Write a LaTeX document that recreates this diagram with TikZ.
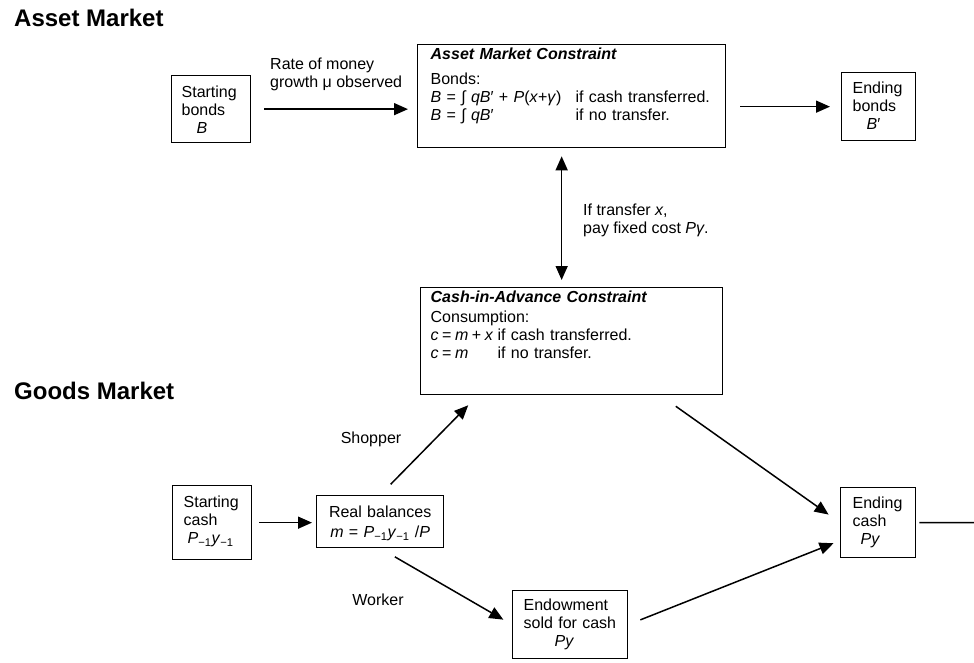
\documentclass[tikz,border=0pt]{standalone}
\usepackage{fontspec}
\setmainfont{Liberation Sans}
\usetikzlibrary{arrows.meta}
\newcommand{\lowidx}[1]{\textsubscript{#1}}
\newcommand{\tstrut}[1]{\rule{0pt}{#1pt}}
\newcommand{\dstrut}[1]{\rule[-#1pt]{0pt}{#1pt}}

\begin{document}
\begin{tikzpicture}[x=1pt,y=-1pt,
  box/.style={draw,line width=1.3pt,anchor=north west,align=left,inner ysep=0pt,font=\fontsize{16}{18}\selectfont},
  lbl/.style={align=left,inner sep=0pt,font=\fontsize{16}{18}\selectfont},
  arr/.style={line width=1.5pt,-{Triangle[length=14pt,width=12pt]}},
  title/.style={anchor=base west,inner sep=0pt,font=\fontsize{24}{28}\selectfont\bfseries}]
\useasboundingbox (0,0) rectangle (974,663);

% market titles
\node[title] (assettitle) at (14,27) {Asset Market};
\node[title] (goodstitle) at (14,399) {Goods Market};

% asset market boxes
\node[box,inner xsep=10pt,text width=59pt] (sb) at (171,75)
  {\tstrut{22}Starting\\bonds\\\hspace{15pt}\textit{B}\dstrut{9}};
\node[box,inner xsep=13pt,text width=282pt] (amc) at (417,44)
  {\tstrut{15}\textbf{\textit{Asset Market Constraint}}\\[7pt]
   Bonds:\\
   \makebox[145pt][l]{\textit{B} = ∫ \textit{qB}′ + \textit{P}(\textit{x}+\textit{γ})}if cash transferred.\\
   \makebox[145pt][l]{\textit{B} = ∫ \textit{qB}′}if no transfer.\dstrut{27}};
\node[box,inner xsep=11pt,text width=52pt] (eb) at (841,72)
  {\tstrut{21}Ending\\bonds\\\hspace{14pt}\textit{B}′\dstrut{11}};

% cash-in-advance box
\node[box,inner xsep=10pt,text width=282pt] (cia) at (420,287)
  {\tstrut{15}\textbf{\textit{Cash-in-Advance Constraint}}\\[2pt]
   Consumption:\\
   \makebox[67pt][l]{\textit{c}\:=\:\textit{m}\:+\:\textit{x}}if cash transferred.\\
   \makebox[67pt][l]{\textit{c}\:=\:\textit{m}}if no transfer.\dstrut{36}};

% goods market boxes
\node[box,inner xsep=11pt,text width=57pt] (sc) at (172,485)
  {\tstrut{22}Starting\\cash\\\hspace{4pt}\textit{P}\lowidx{−1}\textit{y}\lowidx{−1}\dstrut{16}};
\node[box,align=center,inner xsep=6pt,text width=115pt] (rb) at (316,495)
  {\tstrut{22}Real balances\\[2pt]\textit{m} = \textit{P}\lowidx{−1}\textit{y}\lowidx{−1} /\textit{P}\dstrut{10}};
\node[box,inner xsep=11pt,text width=93pt] (en) at (512,590)
  {\tstrut{20}Endowment\\sold for cash\\\hspace{31pt}\textit{Py}\dstrut{12}};
\node[box,inner xsep=12pt,text width=51pt] (ec) at (840,487)
  {\tstrut{21}Ending\\cash\\\hspace{8pt}\textit{Py}\dstrut{13}};
\coordinate (out) at (974,522.5);

% labels
\node[lbl,anchor=north west] (ratelbl) at (270,55)
  {\tstrut{14}Rate of money\\growth μ observed};
\node[lbl,anchor=north west] (costlbl) at (583,201)
  {\tstrut{14}If transfer \textit{x},\\pay fixed cost \textit{P}\textit{γ}.};
\node[lbl,anchor=north] (shoplbl) at (371,429) {\tstrut{14}Shopper};
\node[lbl,anchor=north] (worklbl) at (378,591) {\tstrut{14}Worker};

% arrows
\draw[arr,shorten <=13pt,shorten >=9pt] (sb.east) -- (sb.east -| amc.west);
\draw[arr,shorten <=14pt,shorten >=11pt] (amc.east |- eb.west) -- (eb.west);
\draw[arr,{Triangle[length=14pt,width=12pt]}-{Triangle[length=14pt,width=12pt]},shorten <=8pt,shorten >=7pt]
  ([xshift=-10pt]amc.south) -- ([xshift=-10pt]cia.north);
\draw[arr,shorten <=7pt,shorten >=4pt] (sc.east) -- (sc.east -| rb.west);
\draw[arr,shorten <=15pt,shorten >=14pt] (rb.north) -- ([xshift=58pt]cia.south west);
\draw[arr,shorten <=17pt,shorten >=10pt] (rb.south) -- (en.west);
\draw[arr,shorten <=13pt,shorten >=7pt] (en.east) -- ([yshift=-18pt]ec.west);
\draw[arr,shorten <=19pt,shorten >=14pt] ([xshift=-63pt]cia.south east) -- (ec.west);
\draw[line width=1.5pt,shorten <=3pt] (ec.east) -- (out);
\end{tikzpicture}
\end{document}
